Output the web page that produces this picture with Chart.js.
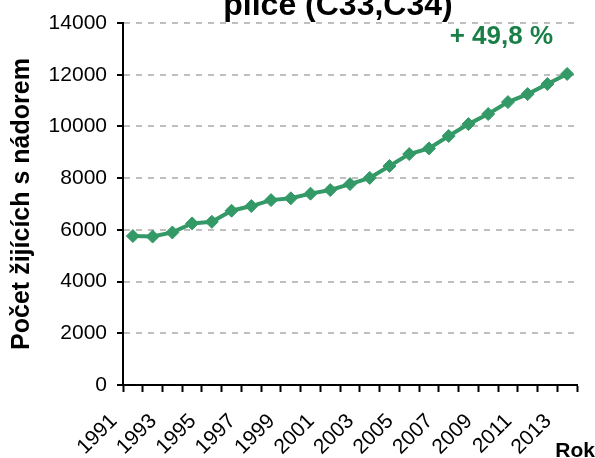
<!DOCTYPE html>
<html>
<head>
<meta charset="utf-8">
<script src="https://cdn.jsdelivr.net/npm/chart.js@4"></script>
<style>
  body { margin: 0; background: #fff; }
  #graf { display: block; }
</style>
</head>
<body>
<canvas id="graf" width="595" height="458"></canvas>
<script>
const roky = ['1991', '1992', '1993', '1994', '1995', '1996', '1997', '1998', '1999', '2000',
    '2001', '2002', '2003', '2004', '2005', '2006', '2007', '2008', '2009', '2010',
    '2011', '2012', '2013']
const pocet_zijicich = [5760, 5740, 5900, 6250, 6310, 6740, 6920, 7150, 7220, 7400,
    7540, 7770, 8010, 8470, 8930, 9150, 9630, 10090, 10480, 10940,
    11250, 11640, 12030]
const y_ticky = [0, 2000, 4000, 6000, 8000, 10000, 12000, 14000]

const nadpis = 'plíce (C33,C34)'
const narust = '+ 49,8 %'
const osa_x = 'Rok'
const osa_y = 'Počet žijících s nádorem'

const pismo = '"Liberation Sans", Arial, sans-serif'
const zelena = '#339966'

// texty mimo osy (nadpis, procento, popis osy x)
const popisky = {
    id: 'popisky',
    afterDraw(chart) {
        const c = chart.ctx
        c.save()
        c.textBaseline = 'alphabetic'
        c.fillStyle = '#000'
        c.textAlign = 'center'
        c.font = 'bold 32px ' + pismo
        c.fillText(nadpis, 338, 15)

        c.fillStyle = '#1a7f47'
        c.font = 'bold 26px ' + pismo
        c.textAlign = 'right'
        c.fillText(narust, 553, 44)

        c.fillStyle = '#000'
        c.font = 'bold 21px ' + pismo
        c.textAlign = 'right'
        c.fillText(osa_x, 595, 457)
        c.restore()
    }
}

const ctx = document.getElementById('graf').getContext('2d')
const myChart = new Chart(ctx, {
    type: 'line',
    data: {
        labels: roky,
        datasets: [{
            data: pocet_zijicich,
            borderColor: zelena,
            backgroundColor: zelena,
            borderWidth: 4,
            pointStyle: 'rectRot',
            pointRadius: 6.5,
            pointBackgroundColor: zelena,
            pointBorderColor: zelena,
            pointBorderWidth: 1,
            tension: 0
        }]
    },
    options: {
        responsive: false,
        animation: false,
        layout: {
            padding: { top: 23, right: 18, bottom: 0, left: 0 }
        },
        plugins: {
            legend: { display: false },
            tooltip: { enabled: false }
        },
        scales: {
            x: {
                offset: true,
                grid: {
                    offset: true,
                    drawOnChartArea: false,
                    drawTicks: true,
                    tickLength: 7,
                    tickWidth: 2,
                    tickColor: '#000',
                    color: '#000'
                },
                border: { color: '#000', width: 2 },
                ticks: {
                    autoSkip: false,
                    maxRotation: 45,
                    minRotation: 45,
                    padding: 17,
                    labelOffset: -19,
                    color: '#000',
                    font: { family: pismo, size: 21 },
                    callback: (v, i) => i % 2 === 0 ? roky[i] : ''
                },
                afterFit: (s) => {
                    s.height = 73
                    s.paddingLeft = 0
                    s.paddingRight = 0
                }
            },
            y: {
                min: 0,
                max: 14000,
                afterBuildTicks: (axis) => { axis.ticks = y_ticky.map(v => ({ value: v })) },
                grid: {
                    color: (c) => c.tick && c.tick.value === 0 ? 'rgba(0,0,0,0)' : '#bfbfbf',
                    lineWidth: 2,
                    tickColor: '#000',
                    tickWidth: 2,
                    tickLength: 6,
                    tickBorderDash: []
                },
                border: { color: '#000', width: 2, dash: [6, 6] },
                ticks: {
                    padding: 10,
                    color: '#000',
                    font: { family: pismo, size: 21 },
                    callback: (v) => String(v)
                },
                title: {
                    display: true,
                    text: osa_y,
                    color: '#000',
                    font: { family: pismo, size: 25, weight: 'bold' },
                    padding: { top: 7, bottom: 0 }
                },
                afterFit: (s) => { s.width = 123 }
            }
        }
    },
    plugins: [popisky]
})
</script>
</body>
</html>
